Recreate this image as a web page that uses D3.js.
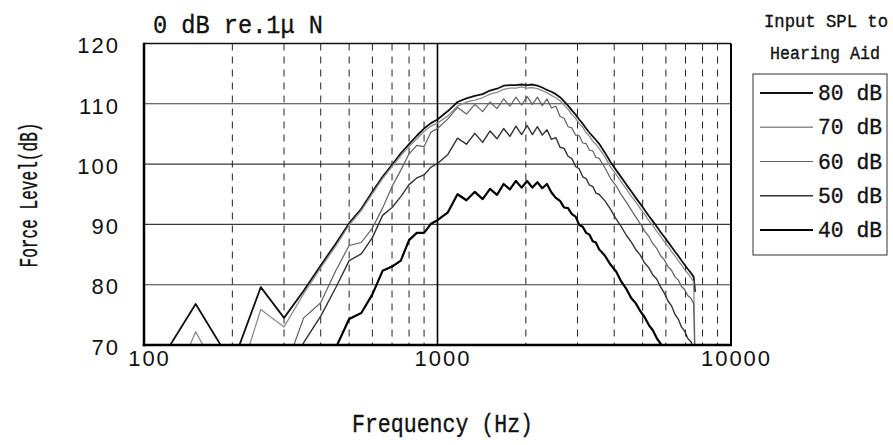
<!DOCTYPE html>
<html>
<head>
<meta charset="utf-8">
<script src="https://cdn.jsdelivr.net/npm/d3@7"></script>
<style>
  html, body { margin: 0; padding: 0; background: #fff; }
  svg { display: block; }
</style>
</head>
<body>
<svg id="chart" width="893" height="445"></svg>
<script>
// Measurement frequencies (Hz)
const freqs = [
  100, 150, 200, 250, 300, 350, 400, 450, 500, 550, 600, 650, 700, 750, 800, 850, 900, 950, 1000,
  1085, 1170, 1255, 1340, 1425, 1510, 1595, 1680, 1765, 1850, 1935, 2020, 2105, 2190, 2275,
  2360, 2445, 2530, 2615, 2700, 2785, 2870, 2955, 3040, 3125, 3210, 3295, 3380, 3465, 3550,
  3720, 3890, 4060, 4230, 4400, 4570, 4740, 4910, 5080, 5250, 5420, 5590, 5760, 5930, 6100,
  6270, 6440, 6610, 6780, 6950, 7120, 7290, 7460, 7545
];

// Output force level (dB re 1 uN) for each input SPL
const spl80 = [
  63, 76.8, 66.8, 79.6, 74.5, 79.0, 83.2, 86.8, 90.2, 92.6, 95.4, 97.9, 99.9, 101.8, 103.3, 104.7, 105.9, 106.8, 107.4,
  108.8, 110.3, 110.9, 111.3, 111.6, 112.2, 112.5, 113.0, 113.1, 113.1, 113.2, 113.1, 113.2, 113.0, 112.7,
  112.3, 112.0, 111.6, 111.1, 110.4, 109.7, 108.9, 108.2, 107.4, 106.7, 105.9, 105.2, 104.6, 104.0, 103.4,
  101.9, 100.3, 99.0, 97.8, 96.6, 95.5, 94.4, 93.4, 92.4, 91.4, 90.5, 89.6, 88.7, 87.9, 87.1,
  86.3, 85.5, 84.8, 84.0, 83.3, 82.6, 82.0, 81.3, 78.8
];
const spl70 = [
  52, 72.2, 61, 75.9, 73.0, 78.5, 82.8, 86.4, 89.9, 92.3, 95.1, 97.6, 99.6, 101.4, 102.9, 104.2, 105.4, 106.3, 106.8,
  108.0, 109.6, 110.3, 110.6, 111.0, 111.6, 111.9, 112.4, 112.6, 112.6, 112.8, 112.6, 112.7, 112.5, 112.2,
  111.8, 111.4, 111.0, 110.5, 109.8, 109.1, 108.2, 107.6, 106.7, 106.1, 105.2, 104.6, 103.8, 103.3, 102.6,
  101.2, 99.5, 98.3, 97.0, 95.9, 94.7, 93.7, 92.6, 91.7, 90.6, 89.8, 88.8, 88.0, 87.1, 86.4,
  85.5, 84.8, 84.0, 83.3, 82.5, 81.9, 81.2, 80.5, 68
];
const spl60 = [
  50, 55, 58, 62, 65.5, 74.5, 77.0, 82.3, 86.5, 87.0, 89.4, 92.7, 96.3, 99.0, 101.7, 103.1, 102.9, 105.3, 105.9,
  107.5, 109.4, 108.3, 109.9, 108.7, 110.3, 109.2, 110.8, 109.6, 111.1, 109.8, 111.2, 109.9, 111.1, 109.7,
  110.8, 109.3, 109.6, 107.9, 107.6, 106.2, 106.0, 104.8, 104.7, 103.5, 103.4, 102.3, 102.2, 101.1, 101.0,
  99.4, 97.6, 96.4, 94.9, 93.7, 92.4, 91.2, 90.1, 88.9, 88.0, 86.8, 86.0, 84.8, 84.1, 83.0,
  82.4, 81.3, 80.8, 79.7, 79.2, 78.2, 77.8, 76.9, 66
];
const spl50 = [
  48, 52, 55, 58, 62, 70.4, 74.8, 79.5, 84.0, 85.1, 87.8, 91.5, 92.8, 94.6, 96.6, 97.7, 98.2, 99.5, 100.1,
  101.6, 104.3, 103.3, 105.1, 103.6, 105.5, 104.2, 105.9, 104.6, 106.3, 104.9, 106.4, 104.9, 106.2, 104.8,
  105.7, 104.1, 104.4, 102.8, 102.6, 101.3, 100.9, 99.6, 99.2, 97.9, 97.6, 96.5, 96.3, 95.2, 95.0,
  93.9, 92.5, 90.9, 89.6, 88.2, 87.1, 85.8, 84.9, 83.6, 82.8, 81.6, 80.9, 79.6, 78.6, 77.3,
  76.5, 75.1, 74.3, 73.0, 72.3, 71.1, 70.6, 69.5, 65
];
const spl40 = [
  45, 48, 50, 53, 56, 59, 62, 69.5, 74.3, 75.3, 78.4, 82.3, 83.0, 84.0, 87.4, 88.6, 88.6, 90.1, 90.7,
  92.0, 95.0, 94.0, 95.4, 94.2, 95.9, 94.9, 96.7, 95.8, 97.2, 96.1, 97.2, 96.1, 97.0, 96.0,
  96.7, 95.3, 94.4, 93.9, 92.8, 92.7, 91.7, 91.3, 89.9, 89.6, 88.6, 88.3, 87.2, 87.0, 85.9,
  84.8, 83.3, 82.2, 80.5, 79.3, 77.8, 76.9, 75.6, 74.6, 73.3, 72.4, 71.1, 70.2, 68.9, 68.0,
  66.8, 66.0, 64.8, 64.0, 63.0, 62.0, 61.0, 60.0, 59.5
];

const seriesNames = ["80 dB", "70 dB", "60 dB", "50 dB", "40 dB"];
const yTicks = [70, 80, 90, 100, 110, 120];
const xTicks = [100, 1000, 10000];
const dashedFreqs = [200, 300, 400, 500, 600, 700, 800, 900, 2000, 3000, 4000, 5000, 6000, 7000, 8000, 9000];

const series = [
  { name: seriesNames[0], values: spl80, color: "#111", width: 1.8 },
  { name: seriesNames[1], values: spl70, color: "#8c8c8c", width: 1.3 },
  { name: seriesNames[2], values: spl60, color: "#606060", width: 1.2 },
  { name: seriesNames[3], values: spl50, color: "#333", width: 1.4 },
  { name: seriesNames[4], values: spl40, color: "#000", width: 2.2 }
];

const svg = d3.select("#chart");
svg.append("rect").attr("width", 893).attr("height", 445).attr("fill", "#fff");

const x = d3.scaleLog().domain([100, 10000]).range([144, 731]);
const y = d3.scaleLinear().domain([70, 120]).range([345, 43.5]);
const [x0, x1] = x.range();
const [y0, y1] = y.range();

const mono = "'Liberation Mono', 'Courier New', monospace";
const narrow = "'Liberation Sans Narrow', 'Liberation Sans', Arial, sans-serif";

// Slightly heavier strokes for the typewriter-style captions
function monoText(sel, size) {
  return sel.attr("font-family", mono).attr("font-size", size)
    .attr("fill", "#111").attr("stroke", "#111").attr("stroke-width", 0.35);
}

// Clip region for the curves
svg.append("clipPath").attr("id", "plotClip")
  .append("rect").attr("x", x0).attr("y", y1).attr("width", x1 - x0).attr("height", y0 - y1);

// Horizontal grid lines
svg.append("g").selectAll("line")
  .data(yTicks.filter(d => d > 70 && d < 120))
  .join("line")
  .attr("x1", x0).attr("x2", x1)
  .attr("y1", d => y(d)).attr("y2", d => y(d))
  .attr("stroke", "#3a3a3a").attr("stroke-width", 1.1);

// Dashed vertical grid lines
svg.append("g").selectAll("line")
  .data(dashedFreqs)
  .join("line")
  .attr("x1", d => x(d)).attr("x2", d => x(d))
  .attr("y1", y1).attr("y2", y0)
  .attr("stroke", "#222").attr("stroke-width", 1)
  .attr("stroke-dasharray", "7,6");

// Solid decade line at 1 kHz
svg.append("line")
  .attr("x1", x(1000)).attr("x2", x(1000))
  .attr("y1", y1).attr("y2", y0)
  .attr("stroke", "#000").attr("stroke-width", 1.6);

// Response curves
const line = d3.line()
  .x((d, i) => x(freqs[i]))
  .y(d => y(d));

svg.append("g").attr("clip-path", "url(#plotClip)")
  .selectAll("path")
  .data(series)
  .join("path")
  .attr("d", d => line(d.values))
  .attr("fill", "none")
  .attr("stroke", d => d.color)
  .attr("stroke-width", d => d.width)
  .attr("stroke-linejoin", "round");

// Plot frame
svg.append("line").attr("x1", x0).attr("x2", x1).attr("y1", y1).attr("y2", y1)
  .attr("stroke", "#111").attr("stroke-width", 1.5);
svg.append("line").attr("x1", x1).attr("x2", x1).attr("y1", y1).attr("y2", y0)
  .attr("stroke", "#000").attr("stroke-width", 2);
svg.append("line").attr("x1", x0).attr("x2", x0).attr("y1", y1 - 0.75).attr("y2", y0 + 1.25)
  .attr("stroke", "#000").attr("stroke-width", 2.5);
svg.append("line").attr("x1", x0 - 1.25).attr("x2", x1 + 1).attr("y1", y0).attr("y2", y0)
  .attr("stroke", "#000").attr("stroke-width", 2.5);

// Axes (labels only)
const yAxis = svg.append("g")
  .attr("transform", `translate(${x0},0)`)
  .call(d3.axisLeft(y).tickValues(yTicks).tickSize(0).tickPadding(24));
yAxis.select(".domain").remove();
yAxis.selectAll("text")
  .attr("font-family", narrow).attr("font-size", 22).attr("fill", "#111")
  .attr("letter-spacing", 2).attr("dy", "0.42em");

const xAxis = svg.append("g")
  .attr("transform", `translate(0,${y0})`)
  .call(d3.axisBottom(x).tickValues(xTicks).tickFormat(d3.format("d")).tickSize(0).tickPadding(13));
xAxis.select(".domain").remove();
xAxis.selectAll("text")
  .attr("font-family", narrow).attr("font-size", 22).attr("fill", "#111")
  .attr("letter-spacing", 2).attr("dx", 5).attr("dy", "0.35em");

// Titles
monoText(svg.append("text"), 26)
  .attr("x", 153).attr("y", 33)
  .attr("textLength", 170).attr("lengthAdjust", "spacingAndGlyphs")
  .text("0 dB re.1μ N");

monoText(svg.append("text"), 25)
  .attr("transform", "translate(30,195) rotate(-90)")
  .attr("text-anchor", "middle").attr("dominant-baseline", "central")
  .attr("textLength", 145).attr("lengthAdjust", "spacingAndGlyphs")
  .text("Force Level(dB)");

monoText(svg.append("text"), 25)
  .attr("x", 442.5).attr("y", 432)
  .attr("text-anchor", "middle")
  .attr("textLength", 181).attr("lengthAdjust", "spacingAndGlyphs")
  .text("Frequency (Hz)");

// Legend
monoText(svg.append("text"), 18)
  .attr("x", 826).attr("y", 27).attr("text-anchor", "middle")
  .attr("textLength", 124).attr("lengthAdjust", "spacingAndGlyphs")
  .text("Input SPL to");
monoText(svg.append("text"), 18)
  .attr("x", 825).attr("y", 59).attr("text-anchor", "middle")
  .attr("textLength", 110).attr("lengthAdjust", "spacingAndGlyphs")
  .text("Hearing Aid");

svg.append("rect")
  .attr("x", 753).attr("y", 74).attr("width", 134).attr("height", 181)
  .attr("fill", "#fff").attr("stroke", "#333").attr("stroke-width", 1);

const legendY = d3.scalePoint().domain(seriesNames).range([93, 230]);
const legendItems = svg.append("g").selectAll("g")
  .data(series)
  .join("g")
  .attr("transform", d => `translate(0,${legendY(d.name)})`);
legendItems.append("line")
  .attr("x1", 760).attr("x2", 813)
  .attr("stroke", d => d.color).attr("stroke-width", d => d.width);
monoText(legendItems.append("text"), 22)
  .attr("x", 818).attr("y", 7)
  .attr("textLength", 64).attr("lengthAdjust", "spacingAndGlyphs")
  .text(d => d.name);
</script>
</body>
</html>
